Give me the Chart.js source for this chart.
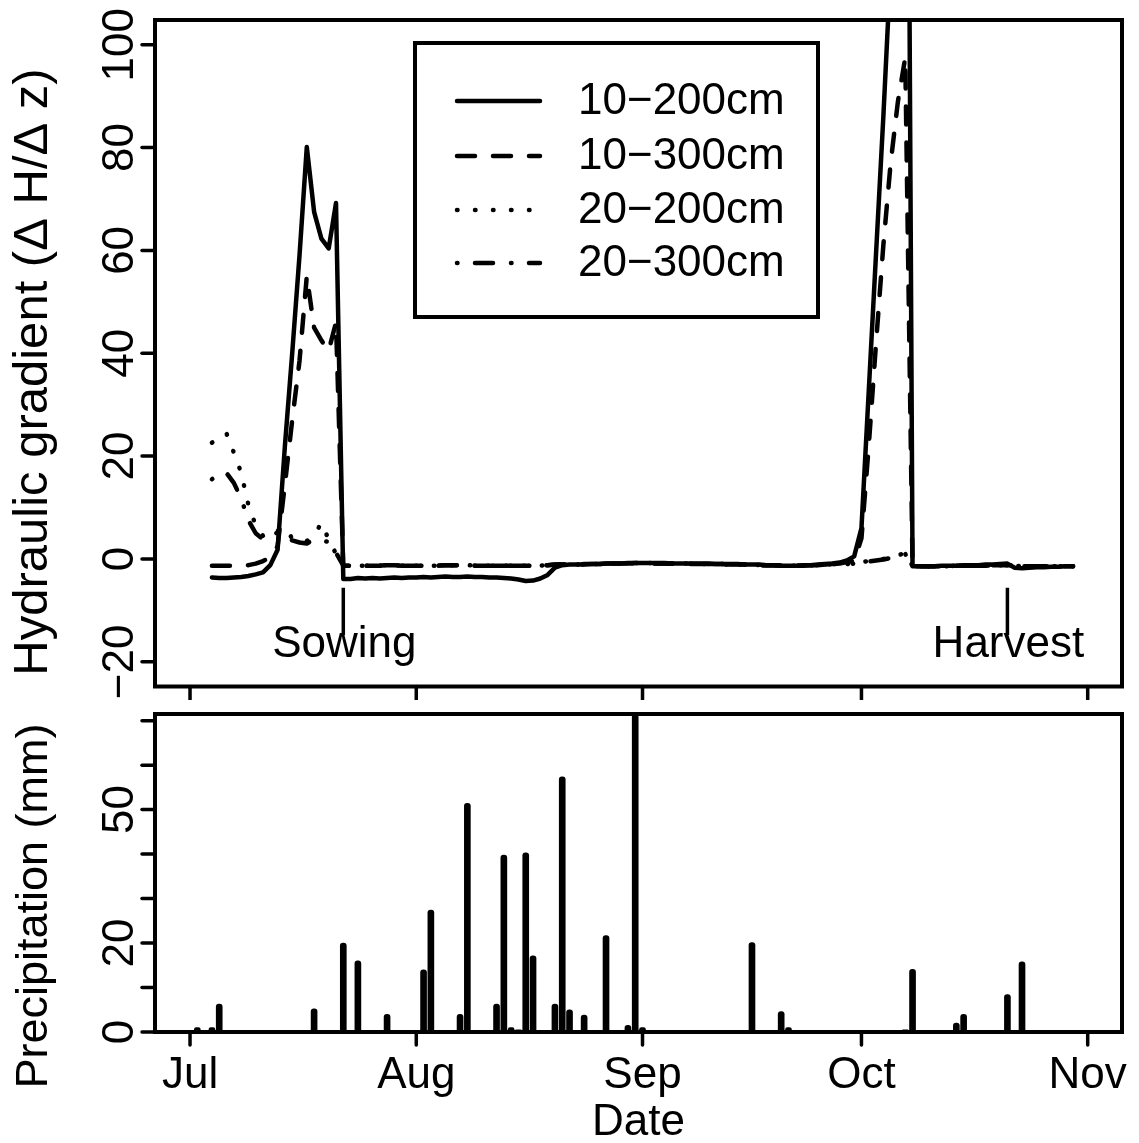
<!DOCTYPE html>
<html>
<head>
<meta charset="utf-8">
<script src="https://cdn.jsdelivr.net/npm/chart.js@4"></script>
<style>
body { margin: 0; background: #fff; }
#wrap { position: relative; width: 1139px; height: 1143px; }
canvas { position: absolute; left: 0; }
</style>
</head>
<body>
<div id="wrap">
<canvas id="gradChart" width="1139" height="700" style="top:0"></canvas>
<canvas id="rainChart" width="1139" height="443" style="top:700px"></canvas>
</div>
<script>
// day numbers count from 1 July (day 0); gradients are daily from day 3
var firstDay = 3;
var days = [];
for (var i = 0; i < 119; i++) days.push(firstDay + i);

var g10_200 = [
  -3.6, -3.7, -3.7, -3.6, -3.5, -3.3, -3.0, -2.6, -1.2, 1.8,
  22, 40, 59, 80.1, 67.5, 62.3, 60.4, 69.2, -3.9, -3.9,
  -3.7, -3.8, -3.7, -3.8, -3.7, -3.6, -3.7, -3.6, -3.6, -3.5,
  -3.6, -3.5, -3.4, -3.5, -3.5, -3.4, -3.5, -3.5, -3.6, -3.6,
  -3.7, -3.8, -4.0, -4.3, -4.2, -3.8, -3.1, -1.7, -1.2, -1.1,
  -1.1, -1.1, -1.0, -1.0, -0.9, -0.9, -0.9, -0.8, -0.8, -0.8,
  -0.8, -0.8, -0.8, -0.9, -0.9, -0.9, -0.9, -0.9, -0.9, -1.0,
  -1.0, -1.0, -1.0, -1.1, -1.1, -1.1, -1.2, -1.2, -1.3, -1.3,
  -1.3, -1.2, -1.2, -1.1, -1.0, -0.9, -0.7, -0.3, 0.5, 6,
  32.7, 59.4, 86, 115, 170, 260, -1.4, -1.4, -1.4, -1.4,
  -1.3, -1.3, -1.3, -1.2, -1.2, -1.2, -1.1, -1.1, -1.0, -0.9,
  -1.7, -1.8, -1.7, -1.6, -1.6, -1.5, -1.5, -1.4, -1.4
];
var g10_300 = [
  -1.3, -1.3, -1.3, -1.3, -1.3, -1.2, -0.9, -0.4, 0.3, 2.5,
  14.5, 27, 38.5, 55, 45, 42.5, 40.5, 46, -1.3, -1.3,
  -1.3, -1.3, -1.3, -1.3, -1.2, -1.2, -1.3, -1.3, -1.3, -1.3,
  -1.3, -1.3, -1.2, -1.2, -1.2, -1.2, -1.3, -1.3, -1.3, -1.3,
  -1.3, -1.3, -1.3, -1.3, -1.3, -1.3, -1.2, -1.1, -1.1, -1.1,
  -1.1, -1.0, -1.0, -1.0, -0.9, -0.9, -0.9, -0.9, -0.8, -0.8,
  -0.8, -0.9, -0.9, -0.9, -0.9, -0.9, -1.0, -1.0, -1.0, -1.0,
  -1.0, -1.1, -1.1, -1.1, -1.1, -1.2, -1.2, -1.2, -1.3, -1.3,
  -1.3, -1.3, -1.2, -1.2, -1.1, -1.0, -0.9, -0.6, -0.4, 4,
  22, 42, 61, 77, 89, 97.5, -1.4, -1.4, -1.4, -1.4,
  -1.4, -1.4, -1.3, -1.3, -1.3, -1.3, -1.3, -1.2, -1.2, -1.2,
  -1.3, -1.4, -1.4, -1.4, -1.4, -1.4, -1.4, -1.4, -1.4
];
var g20_200 = [
  22.6, 23.5, 24.4, 20.7, 16.8, 10.5, 6.5, 4.5, 4.3, 5.5,
  6.1, 4.0, 3.4, 3.5, 4.6, 7.0, 3.8, 1.0, -1.3, -1.3,
  -1.3, -1.3, -1.3, -1.3, -1.2, -1.2, -1.3, -1.3, -1.3, -1.3,
  -1.3, -1.3, -1.2, -1.2, -1.2, -1.2, -1.3, -1.3, -1.3, -1.3,
  -1.3, -1.3, -1.3, -1.3, -1.3, -1.3, -1.2, -1.1, -1.1, -1.1,
  -1.1, -1.0, -1.0, -1.0, -0.9, -0.9, -0.9, -0.9, -0.8, -0.8,
  -0.8, -0.9, -0.9, -0.9, -0.9, -0.9, -1.0, -1.0, -1.0, -1.0,
  -1.0, -1.1, -1.1, -1.1, -1.1, -1.2, -1.2, -1.2, -1.3, -1.3,
  -1.3, -1.3, -1.2, -1.2, -1.1, -1.0, -1.0, -1.0, -0.8, -0.6,
  -0.4, -0.2, 0.0, 0.3, 0.7, 1.2, -1.4, -1.4, -1.4, -1.4,
  -1.4, -1.4, -1.3, -1.3, -1.3, -1.3, -1.3, -1.2, -1.2, -1.2,
  -1.3, -1.4, -1.4, -1.4, -1.4, -1.4, -1.4, -1.4, -1.4
];
var g20_300 = [
  15.5, 16.5, 16.7, 14.8, 11.8, 7.5, 5.0, 3.8, 4.3, 5.2,
  4.5, 3.6, 3.2, 3.0, 3.8, 3.6, 3.3, 1.2, -1.3, -1.3,
  -1.3, -1.3, -1.3, -1.3, -1.2, -1.2, -1.3, -1.3, -1.3, -1.3,
  -1.3, -1.3, -1.2, -1.2, -1.2, -1.2, -1.3, -1.3, -1.3, -1.3,
  -1.3, -1.3, -1.3, -1.3, -1.3, -1.3, -1.2, -1.1, -1.1, -1.1,
  -1.1, -1.0, -1.0, -1.0, -0.9, -0.9, -0.9, -0.9, -0.8, -0.8,
  -0.8, -0.9, -0.9, -0.9, -0.9, -0.9, -1.0, -1.0, -1.0, -1.0,
  -1.0, -1.1, -1.1, -1.1, -1.1, -1.2, -1.2, -1.2, -1.3, -1.3,
  -1.3, -1.3, -1.2, -1.2, -1.1, -1.0, -1.0, -1.0, -0.9, -0.7,
  -0.5, -0.3, -0.1, 0.2, 0.5, 1.0, -1.4, -1.4, -1.4, -1.4,
  -1.4, -1.4, -1.3, -1.3, -1.3, -1.3, -1.3, -1.2, -1.2, -1.2,
  -1.3, -1.4, -1.4, -1.4, -1.4, -1.4, -1.4, -1.4, -1.4
];
var seriesLabels = ['10\u2212200cm', '10\u2212300cm', '20\u2212200cm', '20\u2212300cm'];

// daily precipitation (mm), rain days only
var rainDays = [1, 3, 4, 17, 21, 23, 27, 32, 33, 34, 37, 38, 42, 43, 44, 45, 46, 47, 50, 51,
                52, 54, 57, 60, 61, 62, 77, 81, 82, 90, 98, 99, 103, 105, 106, 112, 114, 121];
var rainMm = [1, 1, 6.3, 5.2, 20, 16, 4, 14, 27.4, 0.3, 4, 51.4, 6.3, 39.8, 1, 0.5, 40.3, 17.1, 6.3, 57.4,
              5, 3.8, 21.7, 1.5, 71.5, 1, 20.1, 4.6, 1, 0.3, 0.5, 14.1, 0.3, 2, 4, 8.4, 15.8, 0.3];

var monthTicks = [0, 31, 62, 92, 123];
var monthLabels = ['Jul', 'Aug', 'Sep', 'Oct', 'Nov'];
var gradTicks = [-20, 0, 20, 40, 60, 80, 100];
var gradTickLabels = ['\u221220', '0', '20', '40', '60', '80', '100'];
var rainTicks = [0, 10, 20, 30, 40, 50, 60, 70];
var rainTickLabels = ['0', '', '20', '', '', '50', '', ''];
var eventDays = [21, 112];
var eventLabels = ['Sowing', 'Harvest'];

var FAMILY = '"Liberation Sans", Arial, Helvetica, sans-serif';
var FONT = '44px ' + FAMILY;
var xMin = -4.8, xMax = 127.7;

function pts(ys) {
  return days.map(function (d, i) { return { x: d, y: ys[i] }; });
}

function lineSet(label, ys, dash) {
  return {
    label: label, data: pts(ys), borderColor: '#000', borderWidth: 4.5,
    borderDash: dash, borderCapStyle: 'round', borderJoinStyle: 'round',
    pointRadius: 0, tension: 0, fill: false, clip: 0
  };
}

function frame(chart) {
  var a = chart.chartArea, ctx = chart.ctx;
  ctx.save();
  ctx.strokeStyle = '#000';
  ctx.lineWidth = 4;
  ctx.strokeRect(a.left, a.top, a.right - a.left, a.bottom - a.top);
  ctx.restore();
}

function xAxis(chart, labels) {
  var ctx = chart.ctx, xs = chart.scales.x, a = chart.chartArea;
  ctx.save();
  ctx.strokeStyle = '#000'; ctx.fillStyle = '#000';
  ctx.lineWidth = 3.5; ctx.lineCap = 'round';
  ctx.font = FONT; ctx.textAlign = 'center'; ctx.textBaseline = 'alphabetic';
  monthTicks.forEach(function (d, i) {
    var px = xs.getPixelForValue(d);
    ctx.beginPath(); ctx.moveTo(px, a.bottom); ctx.lineTo(px, a.bottom + 13); ctx.stroke();
    if (labels) ctx.fillText(monthLabels[i], px, a.bottom + 56);
  });
  ctx.restore();
}

function yAxis(chart, ticks, labels, title, titleY, titleSize) {
  var ctx = chart.ctx, ys = chart.scales.y, a = chart.chartArea;
  ctx.save();
  ctx.strokeStyle = '#000'; ctx.fillStyle = '#000';
  ctx.lineWidth = 3.5; ctx.lineCap = 'round';
  ctx.font = FONT; ctx.textAlign = 'center'; ctx.textBaseline = 'alphabetic';
  ticks.forEach(function (v, i) {
    var py = ys.getPixelForValue(v);
    ctx.beginPath(); ctx.moveTo(a.left, py); ctx.lineTo(a.left - 13, py); ctx.stroke();
    if (labels[i]) {
      ctx.save(); ctx.translate(133, py); ctx.rotate(-Math.PI / 2);
      ctx.fillText(labels[i], 0, 0); ctx.restore();
    }
  });
  ctx.font = titleSize + 'px ' + FAMILY;
  ctx.save(); ctx.translate(47, titleY); ctx.rotate(-Math.PI / 2);
  ctx.fillText(title, 0, 0); ctx.restore();
  ctx.restore();
}

var gradDecor = {
  id: 'gradDecor',
  afterDraw: function (chart) {
    var ctx = chart.ctx, xs = chart.scales.x, ys = chart.scales.y;
    frame(chart);
    xAxis(chart, false);
    yAxis(chart, gradTicks, gradTickLabels, 'Hydraulic gradient (\u0394 H/\u0394 z)', 372, 49);

    // sowing / harvest markers
    ctx.save();
    ctx.strokeStyle = '#000'; ctx.fillStyle = '#000'; ctx.lineWidth = 3.5;
    ctx.font = FONT; ctx.textAlign = 'center'; ctx.textBaseline = 'alphabetic';
    eventDays.forEach(function (d, i) {
      var px = xs.getPixelForValue(d);
      ctx.beginPath();
      ctx.moveTo(px, ys.getPixelForValue(-5.6));
      ctx.lineTo(px, ys.getPixelForValue(-14.8));
      ctx.stroke();
      ctx.fillText(eventLabels[i], px + 1, ys.getPixelForValue(-19.1));
    });
    ctx.restore();

    // legend box
    ctx.save();
    ctx.fillStyle = '#fff';
    ctx.fillRect(415, 43, 403, 274);
    ctx.strokeStyle = '#000'; ctx.lineWidth = 4;
    ctx.strokeRect(415, 43, 403, 274);
    ctx.fillStyle = '#000';
    ctx.font = FONT; ctx.textAlign = 'left'; ctx.textBaseline = 'middle';
    var rows = [101, 156, 210, 263];
    chart.data.datasets.forEach(function (ds, i) {
      ctx.save();
      ctx.lineWidth = ds.borderWidth; ctx.lineCap = 'round';
      ctx.setLineDash(ds.borderDash);
      ctx.beginPath(); ctx.moveTo(457, rows[i]); ctx.lineTo(540, rows[i]); ctx.stroke();
      ctx.restore();
      ctx.fillText(ds.label, 578, rows[i] + 1);
    });
    ctx.restore();
  }
};

var rainDecor = {
  id: 'rainDecor',
  afterDraw: function (chart) {
    var ctx = chart.ctx, a = chart.chartArea;
    frame(chart);
    xAxis(chart, true);
    yAxis(chart, rainTicks, rainTickLabels, 'Precipitation (mm)', 206, 45);
    ctx.save();
    ctx.fillStyle = '#000'; ctx.font = FONT;
    ctx.textAlign = 'center'; ctx.textBaseline = 'alphabetic';
    ctx.fillText('Date', (a.left + a.right) / 2, a.bottom + 103);
    ctx.restore();
  }
};

new Chart(document.getElementById('gradChart').getContext('2d'), {
  type: 'line',
  data: {
    datasets: [
      lineSet(seriesLabels[0], g10_200, []),
      lineSet(seriesLabels[1], g10_300, [18, 18]),
      lineSet(seriesLabels[2], g20_200, [0.5, 17.5]),
      lineSet(seriesLabels[3], g20_300, [0.5, 17.5, 18, 18])
    ]
  },
  options: {
    responsive: false, animation: false, devicePixelRatio: 1, events: [],
    layout: { padding: { left: 155, right: 17, top: 20, bottom: 13.5 } },
    scales: {
      x: { type: 'linear', min: xMin, max: xMax, offset: false, display: false },
      y: { type: 'linear', min: -24.8, max: 104.8, display: false }
    },
    plugins: { legend: { display: false }, tooltip: { enabled: false } }
  },
  plugins: [gradDecor]
});

new Chart(document.getElementById('rainChart').getContext('2d'), {
  type: 'bar',
  data: {
    datasets: [{
      label: 'Precipitation',
      data: rainDays.map(function (d, i) { return { x: d, y: rainMm[i] }; }),
      backgroundColor: '#000', barThickness: 6,
      borderRadius: { topLeft: 3, topRight: 3 }, clip: 0
    }]
  },
  options: {
    responsive: false, animation: false, devicePixelRatio: 1, events: [],
    layout: { padding: { left: 155, right: 17, top: 14, bottom: 111 } },
    scales: {
      x: { type: 'linear', min: xMin, max: xMax, offset: false, grid: { offset: false }, display: false },
      y: { type: 'linear', min: 0, max: 71.5, display: false }
    },
    plugins: { legend: { display: false }, tooltip: { enabled: false } }
  },
  plugins: [rainDecor]
});
</script>
</body>
</html>
